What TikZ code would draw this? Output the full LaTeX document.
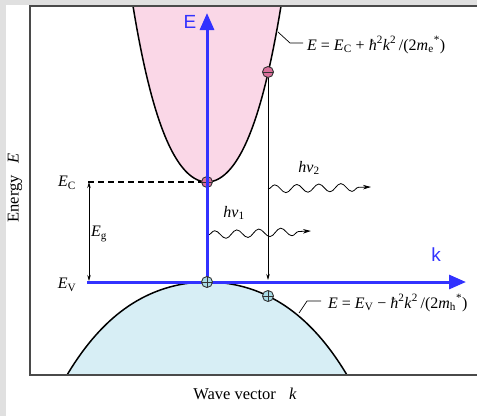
\documentclass[tikz,border=0pt]{standalone}
\usepackage{fontspec}
\setmainfont{Liberation Serif}
\setsansfont{Liberation Sans}
\usetikzlibrary{arrows.meta,decorations.pathmorphing}
\definecolor{bggray}{HTML}{E0E0E0}
\definecolor{framec}{HTML}{4A4A4A}
\definecolor{pinkband}{HTML}{FAD7E7}
\definecolor{blueband}{HTML}{D7EEF5}
\definecolor{axisblue}{RGB}{50,50,255}
\definecolor{elecfill}{HTML}{D9709B}
\definecolor{holefill}{HTML}{A9DCE6}
\tikzset{
  lbl/.style={inner sep=0pt, font=\fontsize{16}{19}\selectfont},
  fmla/.style={inner sep=0pt, font=\fontsize{16}{19}\selectfont},
  biglbl/.style={inner sep=0pt, font=\fontsize{16.5}{19}\selectfont},
  axislbl/.style={inner sep=0pt, text=axisblue, font=\sffamily\fontsize{19}{22}\selectfont},
  axisarrow/.style={draw=axisblue, line width=3pt, -{Triangle[length=17pt,width=14pt]}},
  bandline/.style={draw=black, line width=1.5pt},
  thinarrow/.style={draw=black, line width=0.7pt, -{Stealth[length=6pt,width=3.5pt]}},
  photon/.style={draw=black, line width=0.8pt, -{Stealth[length=8pt,width=4.5pt]}, decorate,
     decoration={snake, amplitude=4pt, segment length=22pt, post length=12pt}},
  elec/.style={circle, minimum size=11pt, inner sep=0pt, fill=elecfill, draw=black!80, line width=0.9pt,
     path picture={\draw[black!80, line width=0.9pt] (path picture bounding box.west) -- (path picture bounding box.east);}},
  hole/.style={circle, minimum size=11pt, inner sep=0pt, fill=holefill, draw=black!80, line width=0.9pt,
     path picture={\draw[black!80, line width=0.9pt] (path picture bounding box.west) -- (path picture bounding box.east)
       (path picture bounding box.north) -- (path picture bounding box.south);}},
  leader/.style={draw=black, line width=0.7pt},
}
\begin{document}
\begin{tikzpicture}[x=1pt, y=-1pt]
\useasboundingbox (0,0) rectangle (477,416);
% background
\fill[bggray] (0,0) rectangle (477,416);
\fill[white] (6,5) rectangle (477,416);
% conduction band
\fill[pinkband] (133,6) -- plot[domain=-74:74, samples=80] ({207+\x},{182-231.1*(\x/100)*(\x/100)-164.7*(\x/100)*(\x/100)*(\x/100)*(\x/100)}) -- (281,6) -- cycle;
\draw[bandline] plot[domain=-74:74, samples=80] ({207+\x},{182-231.1*(\x/100)*(\x/100)-164.7*(\x/100)*(\x/100)*(\x/100)*(\x/100)});
% valence band
\fill[blueband] plot[domain=-139.5:139.5, samples=80] ({207+\x},{282+35.32*(\x/100)*(\x/100)+6.19*(\x/100)*(\x/100)*(\x/100)*(\x/100)}) -- cycle;
\draw[bandline] plot[domain=-139.5:139.5, samples=80] ({207+\x},{282+35.32*(\x/100)*(\x/100)+6.19*(\x/100)*(\x/100)*(\x/100)*(\x/100)});
% frame
\draw[framec, line width=1.4pt] (477,6) -- (30,6) -- (30,375) -- (477,375);
% axis titles
\node[biglbl, rotate=90] (ylab) at (15,188) {Energy\hspace{0.7em}\textit{E}};
\node[biglbl] (xlab) at (245,394) {Wave vector\hspace{0.8em}\textit{k}};
% level labels
\node[lbl] (EC) at (67,183) {\textit{E}\textsubscript{C}};
\node[lbl] (EV) at (67,285) {\textit{E}\textsubscript{V}};
\node[lbl] (Eg) at (99,234) {\textit{E}\textsubscript{g}};
\coordinate (ECs) at (88,182);
\coordinate (ECe) at (207,182);
\coordinate (Ega) at (89,182);
\coordinate (Egb) at (89,281);
\draw[black, line width=1.1pt, dash pattern=on 6pt off 4pt] (ECs) -- (ECe);
\draw[black, line width=0.7pt, {Stealth[length=6pt,width=3.5pt]}-{Stealth[length=6pt,width=3.5pt]}] (Ega) -- (Egb);
% markers
\node[elec] (e1) at (207,182) {};
\node[elec] (e2) at (268,72) {};
\coordinate (kx) at (268,280);
\draw[thinarrow] (e2) -- (kx);
% photons
\coordinate (p1s) at (208,235);
\coordinate (p1e) at (311,231);
\coordinate (p2s) at (268,189);
\coordinate (p2e) at (371,187);
\draw[photon] (p1s) -- (p1e);
\draw[photon] (p2s) -- (p2e);
\node[lbl] (hv1) at (234,213) {\textit{hν}\textsubscript{1}};
\node[lbl] (hv2) at (309,168) {\textit{hν}\textsubscript{2}};
% axes
\coordinate (Eo) at (207,283);
\coordinate (Et) at (207,13);
\coordinate (ko) at (87,282);
\coordinate (kt) at (466,282);
\draw[axisarrow] (Eo) -- (Et);
\draw[axisarrow] (ko) -- (kt);
\node[axislbl] (Elab) at (190,22) {E};
\node[axislbl] (klab) at (436,255) {k};
\node[hole] (h1) at (207,282) {};
\node[hole] (h2) at (268,296) {};
% formulas
\coordinate (l1a) at (278,32);
\coordinate (l1b) at (290,43);
\coordinate (l1c) at (303,43);
\draw[leader] (l1a) -- (l1b) -- (l1c);
\node[fmla, anchor=west] (f1) at (307,45) {\textit{E} = \textit{E}\textsubscript{C} + \textit{ħ}\textsuperscript{2}\textit{k}\textsuperscript{2}\,/(2\textit{m}\textsubscript{e}\textsuperscript{*})};
\coordinate (l2a) at (299,313);
\coordinate (l2b) at (307,301);
\coordinate (l2c) at (321,301);
\draw[leader] (l2a) -- (l2b) -- (l2c);
\node[fmla, anchor=west] (f2) at (328,303) {\textit{E} = \textit{E}\textsubscript{V} − \textit{ħ}\textsuperscript{2}\textit{k}\textsuperscript{2}\,/(2\textit{m}\textsubscript{h}\textsuperscript{*})};
\end{tikzpicture}
\end{document}
